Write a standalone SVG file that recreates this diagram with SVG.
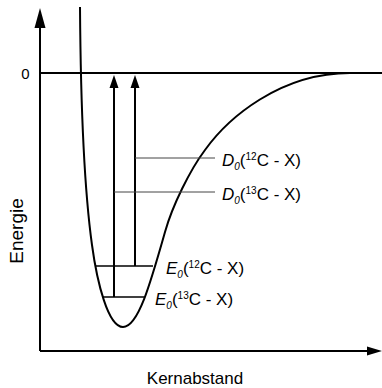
<svg xmlns="http://www.w3.org/2000/svg" width="382" height="388" viewBox="0 0 382 388">
<style>
text{font-family:"Liberation Sans",Arial,sans-serif;fill:#000}
.lbl{font-size:17px}
.ax{stroke:#000;stroke-width:2;fill:none}
.lvl{stroke:#000;stroke-width:1.6;fill:none}
.thin{stroke:#444;stroke-width:1;fill:none}
.head{fill:#000;stroke:none}
.it{font-style:italic}
</style>
<rect width="382" height="388" fill="#fff"/>
<g id="axes">
<line class="ax" x1="40" y1="351" x2="40" y2="24"/>
<polygon class="head" points="40,8 34.5,28 45.5,28"/>
<line class="ax" x1="40" y1="351" x2="368" y2="351"/>
<polygon class="head" points="382,351 367,346.5 367,355.5"/>
<line class="ax" x1="40" y1="73" x2="382" y2="73"/>
<text x="29.5" y="79" font-size="15" text-anchor="end">0</text>
<text transform="translate(22.5,231) rotate(-90)" font-size="19" text-anchor="middle">Energie</text>
<text class="lbl" x="195" y="384" text-anchor="middle">Kernabstand</text>
</g>
<g id="curve">
<path class="ax" d="M80,7 C80.5,80 83,180 92,245 C97,282 108,327 123,327 C138,327 150,285 165,232 C172.5,205.5 190,170 205,150 C228,118 280,73 350,73"/>
</g>
<g id="levels">
<line class="lvl" x1="96" y1="266" x2="153" y2="266"/>
<line class="lvl" x1="103" y1="297" x2="144" y2="297"/>
</g>
<g id="connectors">
<line class="ax" x1="114" y1="297" x2="114" y2="86"/>
<polygon class="head" points="114,75 109.5,88 118.5,88"/>
<line class="ax" x1="135" y1="266" x2="135" y2="86"/>
<polygon class="head" points="135,75 130.5,88 139.5,88"/>
<line class="thin" x1="135" y1="158" x2="215" y2="158"/>
<line class="thin" x1="114" y1="192" x2="215" y2="192"/>
</g>
<g id="labels">
<text class="lbl" x="222" y="166"><tspan class="it">D</tspan><tspan class="it" font-size="10" dy="4">0</tspan><tspan dy="-4">(</tspan><tspan font-size="10" dy="-6">12</tspan><tspan dy="6">C - X)</tspan></text>
<text class="lbl" x="222" y="200"><tspan class="it">D</tspan><tspan class="it" font-size="10" dy="4">0</tspan><tspan dy="-4">(</tspan><tspan font-size="10" dy="-6">13</tspan><tspan dy="6">C - X)</tspan></text>
<text class="lbl" x="166" y="274"><tspan class="it">E</tspan><tspan class="it" font-size="10" dy="4">0</tspan><tspan dy="-4">(</tspan><tspan font-size="10" dy="-6">12</tspan><tspan dy="6">C - X)</tspan></text>
<text class="lbl" x="155" y="305"><tspan class="it">E</tspan><tspan class="it" font-size="10" dy="4">0</tspan><tspan dy="-4">(</tspan><tspan font-size="10" dy="-6">13</tspan><tspan dy="6">C - X)</tspan></text>
</g>
</svg>
